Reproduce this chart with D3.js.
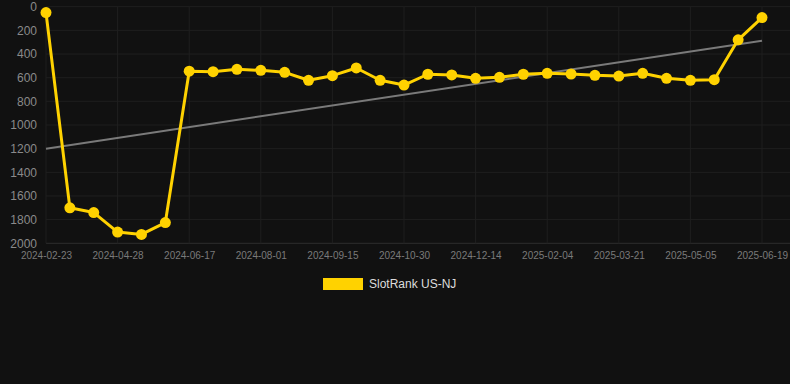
<!DOCTYPE html>
<html>
<head>
<meta charset="utf-8">
<script src="https://cdn.jsdelivr.net/npm/d3@7"></script>
<style>
  html, body { margin: 0; padding: 0; background: #111111; }
  svg { display: block; }
  text { font-family: "Liberation Sans", Arial, sans-serif; }
</style>
</head>
<body>
<svg id="chart" width="790" height="384"></svg>
<script>
const dates = [
  "2024-02-23","2024-03-15","2024-04-06","2024-04-28","2024-05-15","2024-06-01",
  "2024-06-17","2024-07-02","2024-07-17","2024-08-01","2024-08-16","2024-08-31",
  "2024-09-15","2024-09-30","2024-10-15","2024-10-30","2024-11-14","2024-11-29",
  "2024-12-14","2024-12-31","2025-01-17","2025-02-04","2025-02-19","2025-03-06",
  "2025-03-21","2025-04-05","2025-04-20","2025-05-05","2025-05-20","2025-06-04",
  "2025-06-19"
];
const ranks = [
  50, 1700, 1740, 1905, 1925, 1825,
  545, 549, 529, 538, 555, 622,
  583, 518, 622, 662, 571, 577,
  605, 597, 571, 563, 569, 580,
  586, 563, 605, 622, 617, 280,
  92
];
const trendEnds = [1200, 288];
const yTicks = [0, 200, 400, 600, 800, 1000, 1200, 1400, 1600, 1800, 2000];
const xTickLabels = ["2024-02-23","2024-04-28","2024-06-17","2024-08-01","2024-09-15",
  "2024-10-30","2024-12-14","2025-02-04","2025-03-21","2025-05-05","2025-06-19"];
const seriesName = "SlotRank US-NJ";

const svg = d3.select("#chart");
const W = 790;
const x = d3.scalePoint().domain(dates).range([46, 762]);
const y = d3.scaleLinear().domain([0, 2000]).range([6.7, 243.3]);

// horizontal grid
svg.append("g").selectAll("line").data(yTicks).join("line")
  .attr("x1", 46).attr("x2", W)
  .attr("y1", d => y(d)).attr("y2", d => y(d))
  .attr("stroke", d => d === 2000 ? "#2e2e2e" : "#1f1f1f").attr("stroke-width", 1);

// vertical grid
svg.append("g").selectAll("line").data(xTickLabels).join("line")
  .attr("x1", d => x(d)).attr("x2", d => x(d))
  .attr("y1", y(0)).attr("y2", y(2000))
  .attr("stroke", "#1f1f1f").attr("stroke-width", 1);

// y axis labels
const yAxis = d3.axisLeft(y).tickValues(yTicks).tickFormat(d3.format("d")).tickSize(0).tickPadding(0);
const gy = svg.append("g").attr("transform", "translate(37,0)").call(yAxis);
gy.select(".domain").remove();
gy.selectAll("text").attr("fill", "#8a8a8a").attr("font-size", 12)
  .style("font-family", '"Liberation Sans", Arial, sans-serif');

// x axis labels
const xAxis = d3.axisBottom(x).tickValues(xTickLabels).tickSize(0).tickPadding(0);
const gx = svg.append("g").attr("transform", "translate(0,252)").call(xAxis);
gx.select(".domain").remove();
gx.selectAll("text").attr("fill", "#7a7a7a").attr("font-size", 10)
  .style("font-family", '"Liberation Sans", Arial, sans-serif');

// trend line
svg.append("line")
  .attr("x1", x(dates[0])).attr("y1", y(trendEnds[0]))
  .attr("x2", x(dates[dates.length - 1])).attr("y2", y(trendEnds[1]))
  .attr("stroke", "#7a7a7a").attr("stroke-width", 2);

// series line
const color = "#ffd200";
const line = d3.line().x((d, i) => x(dates[i])).y(d => y(d));
svg.append("path").datum(ranks)
  .attr("d", line).attr("fill", "none")
  .attr("stroke", color).attr("stroke-width", 3).attr("stroke-linejoin", "round");

svg.append("g").selectAll("circle").data(ranks).join("circle")
  .attr("cx", (d, i) => x(dates[i])).attr("cy", d => y(d))
  .attr("r", 5.5).attr("fill", color);

// legend
const lg = svg.append("g");
lg.append("rect").attr("x", 323).attr("y", 278).attr("width", 40).attr("height", 12)
  .attr("fill", color);
lg.append("text").attr("x", 369).attr("y", 284).attr("dy", "0.35em")
  .attr("fill", "#dddddd").attr("font-size", 12).text(seriesName);
</script>
</body>
</html>
